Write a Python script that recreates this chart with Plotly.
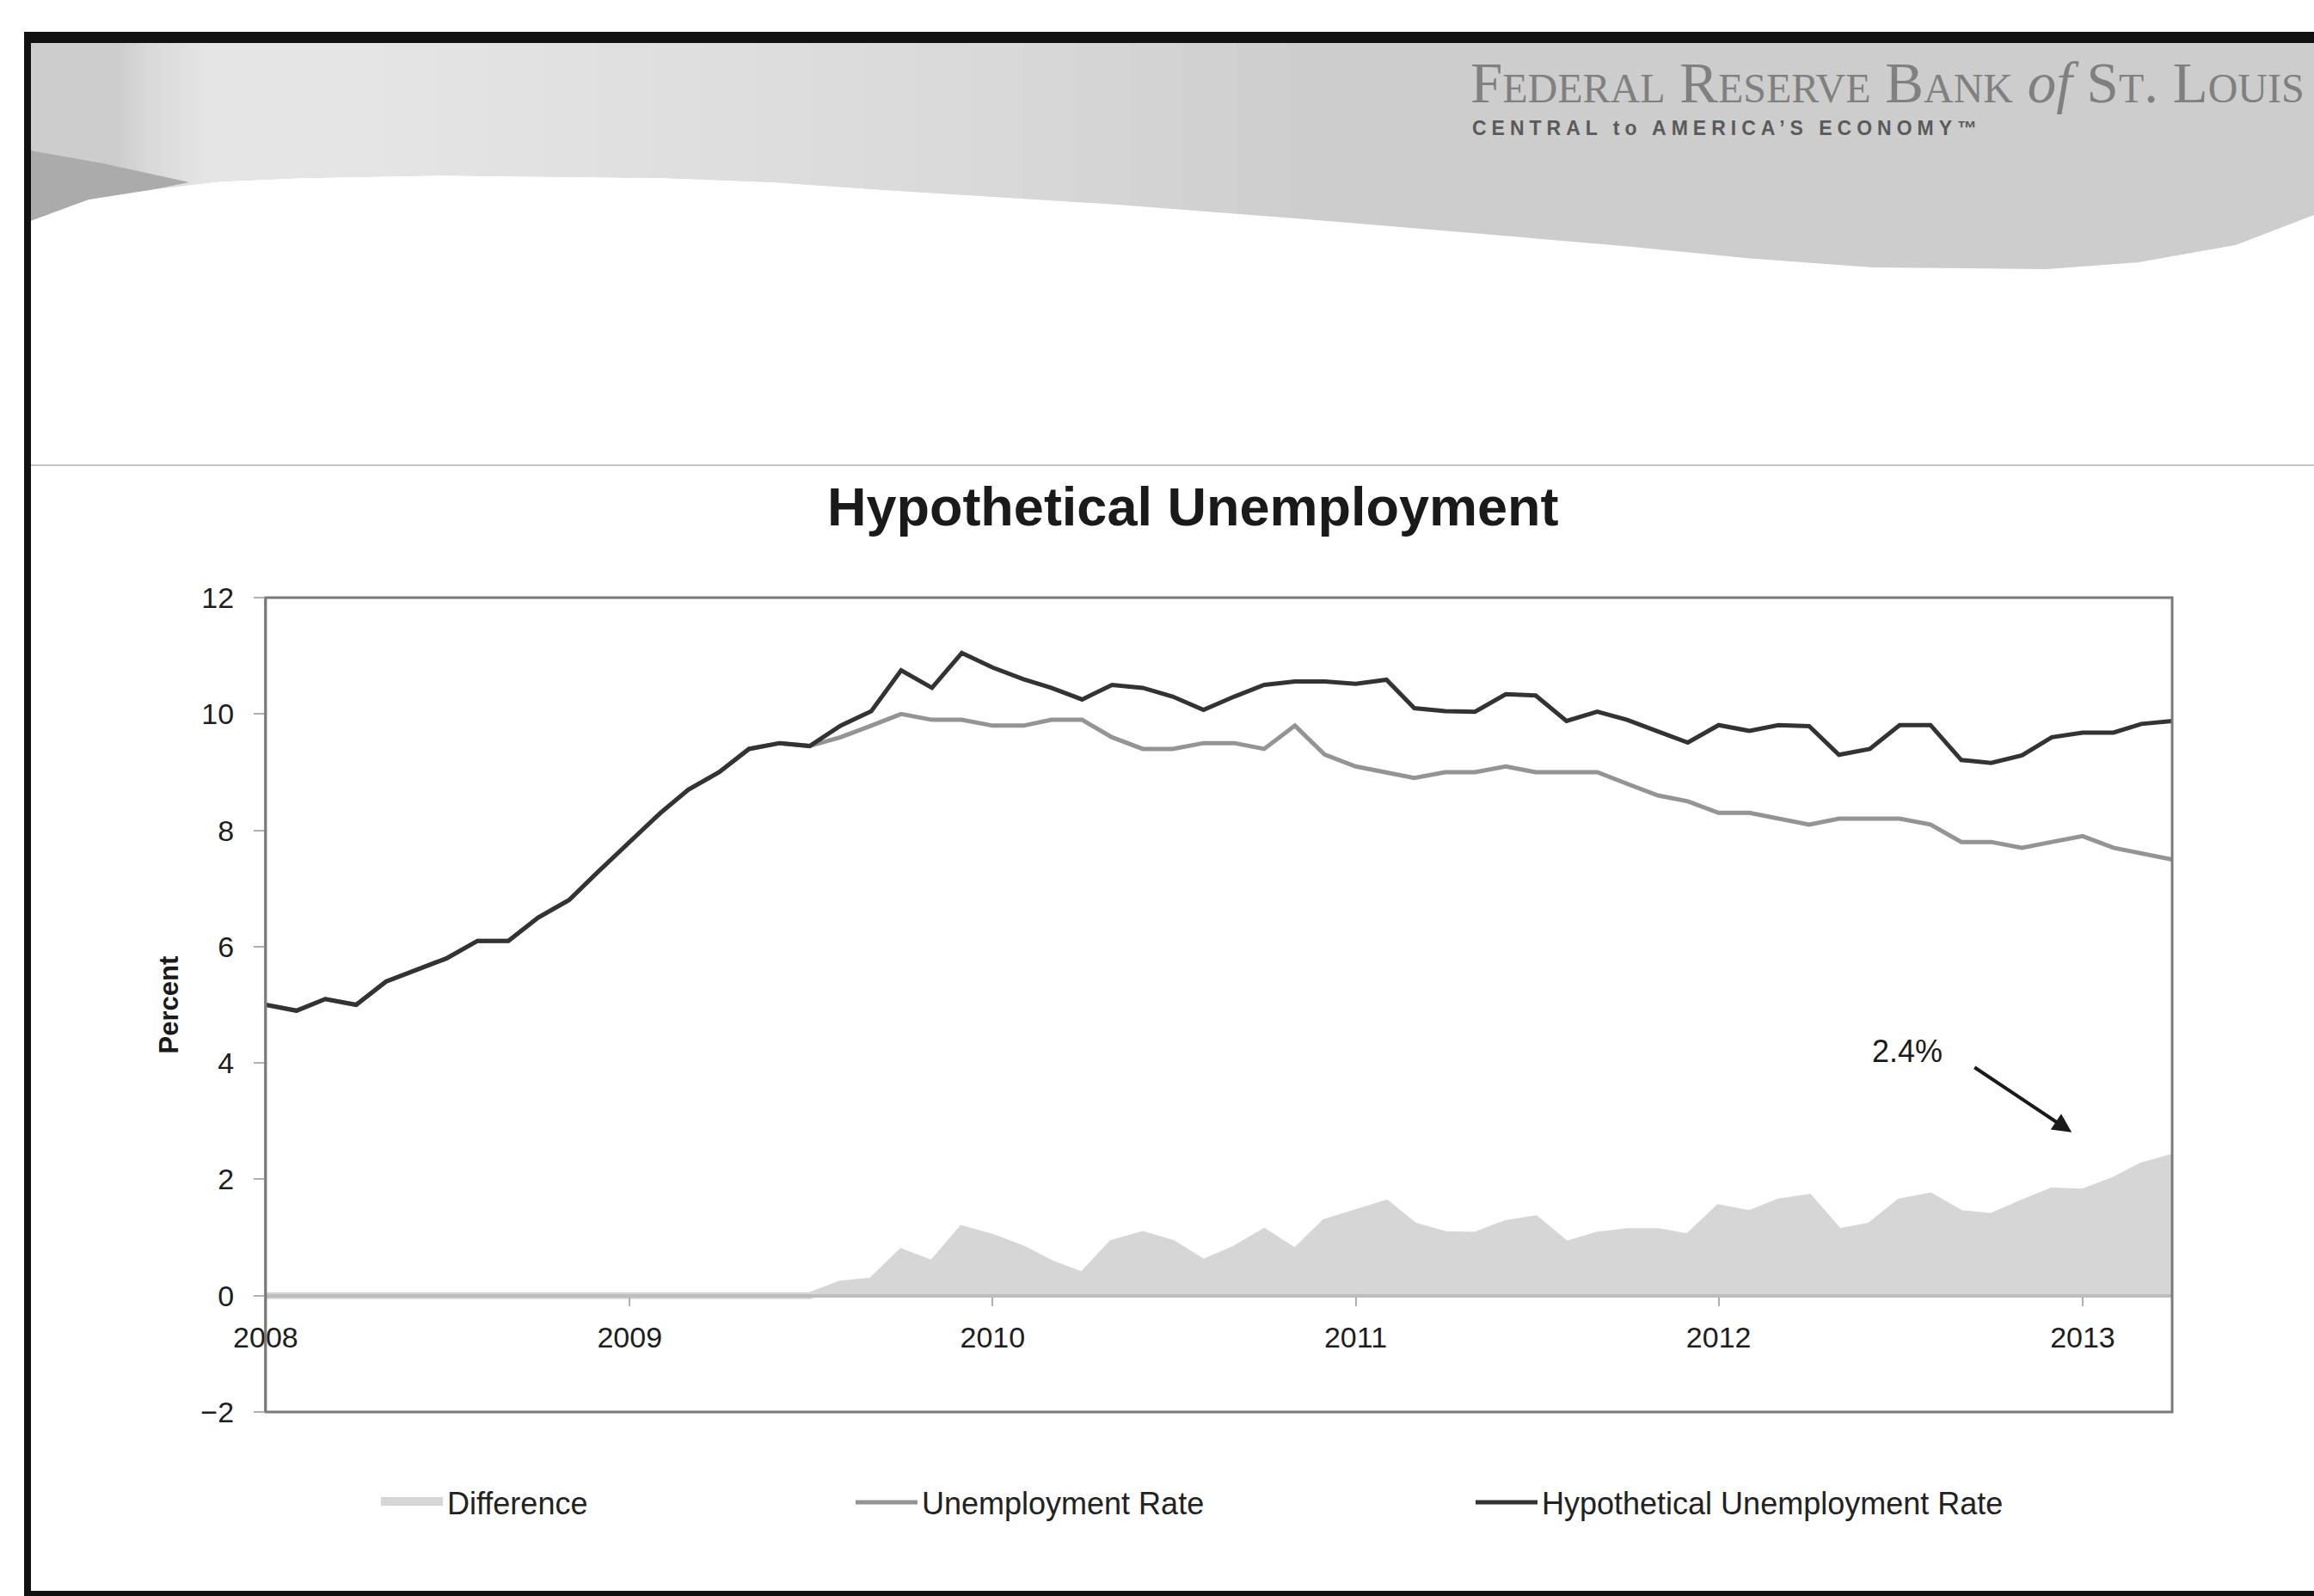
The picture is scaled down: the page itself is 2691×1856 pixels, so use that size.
import pandas as pd
import plotly.graph_objects as go

# ---------------- data ----------------
start_month = "2008-01-01"
n_months = 64  # Jan 2008 .. Apr 2013
year_labels = ["2008", "2009", "2010", "2011", "2012", "2013"]
y_ticks = [-2, 0, 2, 4, 6, 8, 10, 12]

unemployment_rate = [
    5.0, 4.9, 5.1, 5.0, 5.4, 5.6, 5.8, 6.1, 6.1, 6.5, 6.8, 7.3,      # 2008
    7.8, 8.3, 8.7, 9.0, 9.4, 9.5, 9.45, 9.6, 9.8, 10.0, 9.9, 9.9,    # 2009
    9.8, 9.8, 9.9, 9.9, 9.6, 9.4, 9.4, 9.5, 9.5, 9.4, 9.8, 9.3,      # 2010
    9.1, 9.0, 8.9, 9.0, 9.0, 9.1, 9.0, 9.0, 9.0, 8.8, 8.6, 8.5,      # 2011
    8.3, 8.3, 8.2, 8.1, 8.2, 8.2, 8.2, 8.1, 7.8, 7.8, 7.7, 7.8,      # 2012
    7.9, 7.7, 7.6, 7.5,                                              # 2013
]

hypothetical_rate = [
    5.0, 4.9, 5.1, 5.0, 5.4, 5.6, 5.8, 6.1, 6.1, 6.5, 6.8, 7.3,      # 2008
    7.8, 8.3, 8.7, 9.0, 9.4, 9.5, 9.45, 9.8, 10.05, 10.75, 10.45, 11.05,  # 2009
    10.8, 10.6, 10.45, 10.25, 10.5, 10.45, 10.3, 10.07, 10.3, 10.5, 10.56, 10.56,  # 2010
    10.52, 10.59, 10.1, 10.05, 10.04, 10.34, 10.32, 9.88, 10.04, 9.9, 9.7, 9.51,  # 2011
    9.81, 9.71, 9.81, 9.79, 9.3, 9.4, 9.81, 9.81, 9.21, 9.16, 9.29, 9.6,  # 2012
    9.68, 9.68, 9.83, 9.88,                                          # 2013
]

months = pd.date_range(start_month, periods=n_months, freq="MS")
difference = [round(h - u, 2) for h, u in zip(hypothetical_rate, unemployment_rate)]

# ---------------- figure ----------------
W, H = 2691, 1856
FONT = "Liberation Sans, Arial, sans-serif"
SERIF = "Liberation Serif, Times New Roman, serif"


def px(x):
    return x / W


def py(y):
    return 1 - y / H


def path_from(points):
    return "M " + " L ".join(f"{px(x):.5f},{py(y):.5f}" for x, y in points) + " Z"


fig = go.Figure()

fig.add_trace(go.Scatter(
    x=months, y=difference, name="Difference", mode="lines",
    line=dict(width=8, color="#d6d6d6"), fill="tozeroy", fillcolor="#d6d6d6",
    legend="legend", showlegend=True,
))
fig.add_trace(go.Scatter(
    x=months, y=unemployment_rate, name="Unemployment Rate", mode="lines",
    line=dict(width=5, color="#949494"), legend="legend2", showlegend=True,
))
fig.add_trace(go.Scatter(
    x=months, y=hypothetical_rate, name="Hypothetical Unemployment Rate", mode="lines",
    line=dict(width=5, color="#333333"), legend="legend3", showlegend=True,
))

y_dom = [0.1153, 0.6255]
y_rng = [-2, 12]
zero_pos = y_dom[0] + (0 - y_rng[0]) / (y_rng[1] - y_rng[0]) * (y_dom[1] - y_dom[0])

leg_common = dict(orientation="h", yanchor="middle", xanchor="left", itemwidth=72,
                  font=dict(size=36, color="#222"), bgcolor="rgba(0,0,0,0)")

fig.update_layout(
    width=W, height=H,
    margin=dict(l=0, r=0, t=0, b=0, autoexpand=False),
    showlegend=True,
    paper_bgcolor="white", plot_bgcolor="white",
    font=dict(family=FONT, color="#222222"),
    title=dict(text="<b>Hypothetical Unemployment</b>", x=0.5155, y=0.6827,
               xref="paper", yref="paper", xanchor="center", yanchor="middle",
               font=dict(size=63, family=FONT, color="#1a1a1a")),
    xaxis=dict(
        domain=[0.1148, 0.9387], type="date", automargin=False,
        range=[months[0], months[-1]],
        tickvals=[pd.Timestamp(f"{y}-01-01") for y in year_labels],
        ticktext=year_labels,
        anchor="free", position=zero_pos,
        showline=True, linecolor="#bdbdbd", linewidth=4,
        ticks="outside", ticklen=10, tickwidth=2, tickcolor="#b0b0b0",
        tickfont=dict(size=34, color="#1e1e1e"), ticklabelstandoff=7,
        showgrid=False, zeroline=False,
    ),
    yaxis=dict(
        domain=y_dom, range=y_rng, tickvals=y_ticks, automargin=False,
        showline=True, linecolor="#a0a0a0", linewidth=2,
        ticks="outside", ticklen=12, tickwidth=2, tickcolor="#b0b0b0",
        tickfont=dict(size=34, color="#1e1e1e"), ticklabelstandoff=16,
        showgrid=False, zeroline=False,
        title=dict(text="<b>Percent</b>", standoff=17,
                   font=dict(size=31, family=FONT, color="#1a1a1a")),
    ),
    legend=dict(x=px(438), y=py(1747), **leg_common),
    legend2=dict(x=px(990), y=py(1747), **leg_common),
    legend3=dict(x=px(1711), y=py(1747), **leg_common),
)

# plot frame (Excel style box)
fig.add_shape(type="rect", xref="x domain", yref="y domain", x0=0, x1=1, y0=0, y1=1,
              line=dict(color="#7a7a7a", width=3), layer="above")

# annotation: last difference value with an arrow
fig.add_annotation(x=pd.Timestamp("2012-07-09"), y=4.2, xref="x", yref="y",
                   text=f"{difference[-1]:.1f}%", showarrow=False,
                   font=dict(size=36, color="#1a1a1a", family=FONT))
fig.add_annotation(x=pd.Timestamp("2012-12-21"), y=2.81, xref="x", yref="y",
                   ax=pd.Timestamp("2012-09-13"), ay=3.94, axref="x", ayref="y",
                   text="", showarrow=True, arrowhead=2, arrowsize=1.1,
                   arrowwidth=4, arrowcolor="#1a1a1a")

# ---------------- slide decoration ----------------
banner_bottom = [(2691, 250), (2600, 285), (2487, 305), (2380, 313), (2178, 311),
                 (2030, 300), (1887, 286), (1700, 270), (1544, 257), (1300, 238),
                 (1029, 221), (900, 212), (772, 207), (515, 204), (350, 207),
                 (257, 211), (180, 220), (103, 232), (35, 257)]


def bottom_at(x):
    pts = sorted(banner_bottom)
    for (x0, y0), (x1, y1) in zip(pts, pts[1:]):
        if x0 <= x <= x1:
            return y0 + (y1 - y0) * (x - x0) / (x1 - x0)
    return pts[-1][1]


fig.add_shape(type="path", xref="paper", yref="paper", layer="below",
              path=path_from([(35, 50), (2691, 50)] + banner_bottom),
              fillcolor="#cdcdcd", line=dict(width=0))
# smooth lighter glow toward the left of the banner (many faint stacked layers)
n_layers = 18
for k in range(n_layers):
    x_start = 140 + 6 * k
    x_end = 1500 - 62 * k
    pts = [p for p in banner_bottom if x_start < p[0] < x_end]
    fig.add_shape(type="path", xref="paper", yref="paper", layer="below",
                  path=path_from([(x_start, 50), (x_end, 50), (x_end, bottom_at(x_end))] + pts
                                 + [(x_start, bottom_at(x_start))]),
                  fillcolor="rgba(255,255,255,0.05)", line=dict(width=0))
# darker tip lower-left
fig.add_shape(type="path", xref="paper", yref="paper", layer="below",
              path=path_from([(35, 175), (120, 190), (220, 212), (180, 220), (103, 232), (35, 257)]),
              fillcolor="#ababab", line=dict(width=0))
# slide border lines
fig.add_shape(type="rect", xref="paper", yref="paper", layer="above",
              x0=px(28), x1=1, y0=py(50), y1=py(37), fillcolor="#111111", line=dict(width=0))
fig.add_shape(type="rect", xref="paper", yref="paper", layer="above",
              x0=px(28), x1=px(36), y0=0, y1=py(37), fillcolor="#111111", line=dict(width=0))
fig.add_shape(type="rect", xref="paper", yref="paper", layer="above",
              x0=px(28), x1=1, y0=0, y1=py(1850), fillcolor="#111111", line=dict(width=0))
# thin separator line
fig.add_shape(type="line", xref="paper", yref="paper", layer="below",
              x0=px(36), x1=1, y0=py(541), y1=py(541), line=dict(color="#c4c4c4", width=2))

sc = "font-size:48px"
fig.add_annotation(
    xref="paper", yref="paper", x=px(1708), y=py(96), xanchor="left", yanchor="middle",
    showarrow=False, align="left",
    text=(f"F<span style='{sc}'>EDERAL</span> R<span style='{sc}'>ESERVE</span> "
          f"B<span style='{sc}'>ANK</span> <i>of</i> S<span style='{sc}'>T</span>. "
          f"L<span style='{sc}'>OUIS</span>"),
    font=dict(family=SERIF, size=67, color="#808080"),
)
fig.add_annotation(
    xref="paper", yref="paper", x=px(1710), y=py(149), xanchor="left", yanchor="middle",
    showarrow=False,
    text="<b><span style='letter-spacing:6px'>CENTRAL to AMERICA\u2019S ECONOMY\u2122</span></b>",
    font=dict(family=FONT, size=23, color="#5a5a5a"),
)

fig.write_html("out.html")
